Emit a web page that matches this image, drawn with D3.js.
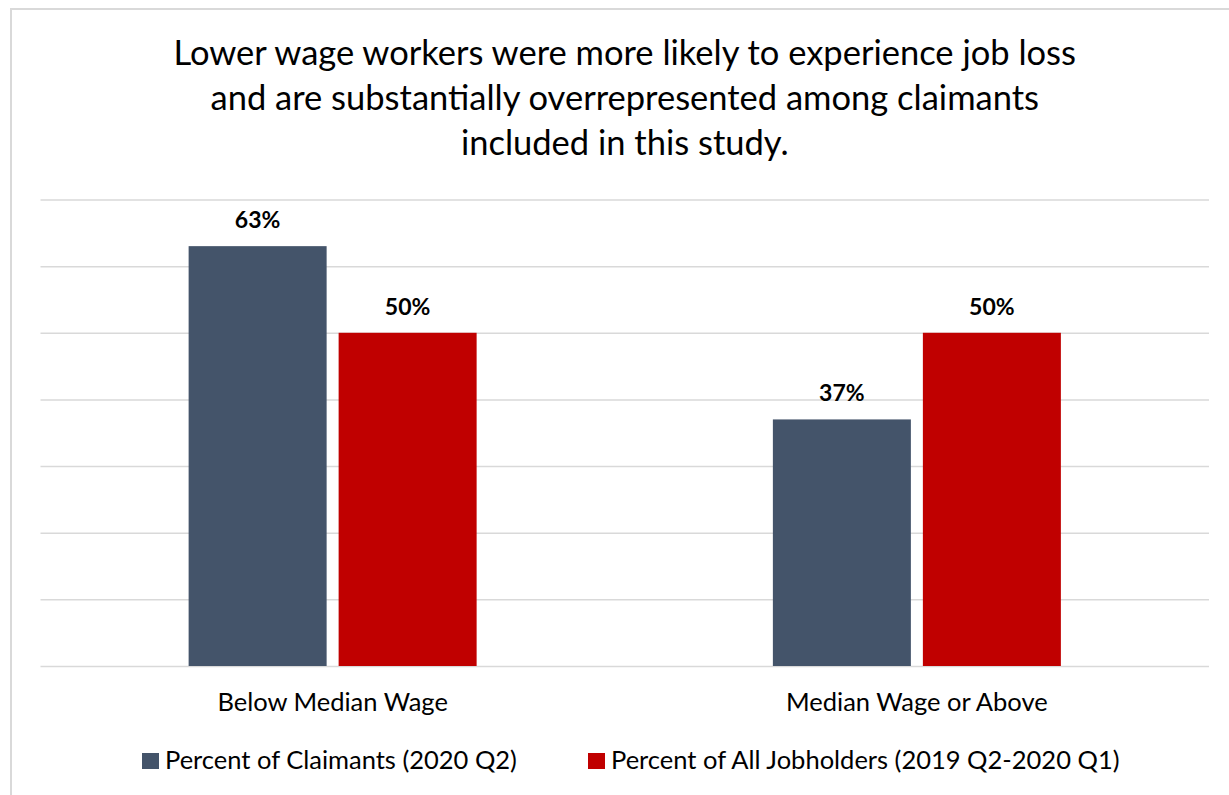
<!DOCTYPE html>
<html lang="en">
<head>
<meta charset="utf-8">
<script src="https://d3js.org/d3.v7.min.js"></script>
<style>
  body { margin: 0; background: #fff; }
  svg { display: block; font-family: Lato, "Open Sans", sans-serif; }
  .grid line { stroke: #d9d9d9; stroke-width: 1.5px; }
  .grid .domain { display: none; }
</style>
</head>
<body>
<svg id="chart" width="1229" height="795"></svg>
<script>
// data
var titleLines = ["Lower wage workers were more likely to experience job loss",
                  "and are substantially overrepresented among claimants",
                  "included in this study."];
var categories = ["Below Median Wage", "Median Wage or Above"];
var seriesNames = ["Percent of Claimants (2020 Q2)", "Percent of All Jobholders (2019 Q2-2020 Q1)"];
var claimants = [63, 37];
var jobholders = [50, 50];
var colors = ["#44546a", "#c00000"];
var yTicks = [0, 10, 20, 30, 40, 50, 60, 70];

var svg = d3.select("#chart");

// outer chart border
svg.append("rect")
    .attr("x", 11).attr("y", 9)
    .attr("width", 1240).attr("height", 800)
    .attr("fill", "none")
    .attr("stroke", "#d9d9d9")
    .attr("stroke-width", 2);

var plotLeft = 40.5, plotRight = 1209, plotTop = 199.5, plotBottom = 666;

var x = d3.scaleBand().domain(categories).range([plotLeft, plotRight]).padding(0);
var xs = d3.scaleBand().domain([0, 1]).paddingInner(0.08)
    .range([x.bandwidth() / 2 - 144, x.bandwidth() / 2 + 144]);
var y = d3.scaleLinear().domain([0, 70]).range([plotBottom, plotTop]);

// title
svg.append("text")
    .attr("text-anchor", "middle")
    .attr("font-size", 34.5)
    .attr("fill", "#000")
    .selectAll("tspan")
    .data(titleLines)
    .enter().append("tspan")
      .attr("x", (plotLeft + plotRight) / 2)
      .attr("y", function(d, i) { return 65 + i * 45; })
      .text(function(d) { return d; });

// gridlines
svg.append("g")
    .attr("class", "grid")
    .attr("transform", "translate(" + plotLeft + ",0)")
    .call(d3.axisLeft(y).tickValues(yTicks).tickSize(-(plotRight - plotLeft)).tickFormat(""));

var rows = categories.map(function(c, i) {
  return { cat: c, values: [claimants[i], jobholders[i]] };
});

var groups = svg.selectAll(".group")
    .data(rows)
    .enter().append("g")
      .attr("class", "group")
      .attr("transform", function(d) { return "translate(" + x(d.cat) + ",0)"; });

groups.selectAll("rect")
    .data(function(d) { return d.values; })
    .enter().append("rect")
      .attr("x", function(d, i) { return xs(i); })
      .attr("y", function(d) { return y(d); })
      .attr("width", xs.bandwidth())
      .attr("height", function(d) { return y(0) - y(d); })
      .attr("fill", function(d, i) { return colors[i]; });

groups.selectAll("text.val")
    .data(function(d) { return d.values; })
    .enter().append("text")
      .attr("class", "val")
      .attr("x", function(d, i) { return xs(i) + xs.bandwidth() / 2; })
      .attr("y", function(d) { return y(d) - 18; })
      .attr("text-anchor", "middle")
      .attr("font-size", 23)
      .attr("font-weight", "bold")
      .text(function(d) { return d + "%"; });

// category labels
svg.selectAll("text.cat")
    .data(categories)
    .enter().append("text")
      .attr("class", "cat")
      .attr("x", function(d) { return x(d) + x.bandwidth() / 2; })
      .attr("y", 711)
      .attr("text-anchor", "middle")
      .attr("font-size", 25.5)
      .text(function(d) { return d; });

// legend
var legendX = [142, 588];
var legend = svg.selectAll(".legend")
    .data(seriesNames)
    .enter().append("g")
      .attr("class", "legend")
      .attr("transform", function(d, i) { return "translate(" + legendX[i] + ",753)"; });

legend.append("rect")
    .attr("width", 17).attr("height", 16)
    .attr("fill", function(d, i) { return colors[i]; });

legend.append("text")
    .attr("x", 23).attr("y", 16)
    .attr("font-size", 25.5)
    .text(function(d) { return d; });
</script>
</body>
</html>
